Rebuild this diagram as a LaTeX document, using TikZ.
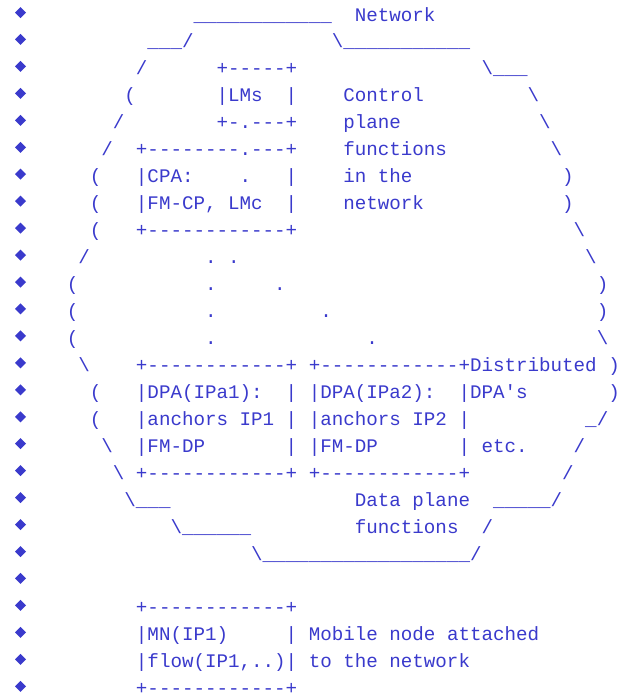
\documentclass[tikz,border=0pt]{standalone}
\usepackage{fontspec}
\setmonofont{Liberation Mono}
\ExplSyntaxOn
\cs_new:Npn \reprun #1#2 { \prg_replicate:nn {#1} {#2} }
\ExplSyntaxOff
\definecolor{ink}{RGB}{58,58,204}
% grid of the character art: left margin, column width, first baseline, line pitch
\def\xo{43.8}
\def\cw{11.52}
\def\yo{21}
\def\lp{26.95}
\newcommand\boxedge{+\reprun{12}{-}+}
\newcommand\bs{\textbackslash}
\tikzset{
  ascii/.style={anchor=base west, inner sep=0pt, outer sep=0pt, text=ink,
    font=\fontsize{19.2pt}{23pt}\selectfont\ttfamily\frenchspacing},
  bullet/.style={fill=ink}
}
% \asc{name}{line}{column}{text}
\newcommand\asc[4]{\node[ascii] (#1) at ({\xo+#3*\cw},{\yo+(#2-1)*\lp}) {#4};}
\begin{document}
\begin{tikzpicture}[x=1pt,y=-1pt]
\useasboundingbox (0,0) rectangle (620,697);
\fill[white] (0,0) rectangle (620,697);
% list bullets
\foreach \i in {1,...,26}{
  \pgfmathsetmacro\by{\yo+(\i-1)*\lp-8.5}
  \fill[bullet] (20.5,\by-5.5) -- (26,\by) -- (20.5,\by+5.5) -- (15,\by) -- cycle;
}
% network outline and labels
\asc{a1}{1}{13}{\reprun{12}{\_}}
\asc{a2}{1}{27}{Network}
\asc{b1}{2}{9}{\_\_\_/}
\asc{b2}{2}{25}{\bs\reprun{11}{\_}}
\asc{c1}{3}{8}{/}
\asc{c2}{3}{15}{+-----+}
\asc{c3}{3}{38}{\bs\_\_\_}
\asc{d1}{4}{7}{(}
\asc{d2}{4}{15}{|LMs}
\asc{d3}{4}{21}{|}
\asc{d4}{4}{26}{Control}
\asc{d5}{4}{42}{\bs}
\asc{e1}{5}{6}{/}
\asc{e2}{5}{15}{+-.---+}
\asc{e3}{5}{26}{plane}
\asc{e4}{5}{43}{\bs}
\asc{f1}{6}{5}{/}
\asc{f2}{6}{8}{+--------.---+}
\asc{f3}{6}{26}{functions}
\asc{f4}{6}{44}{\bs}
\asc{g1}{7}{4}{(}
\asc{g2}{7}{8}{|CPA:}
\asc{g3}{7}{17}{.}
\asc{g4}{7}{21}{|}
\asc{g5}{7}{26}{in the}
\asc{g6}{7}{45}{)}
\asc{h1}{8}{4}{(}
\asc{h2}{8}{8}{|FM-CP, LMc}
\asc{h3}{8}{21}{|}
\asc{h4}{8}{26}{network}
\asc{h5}{8}{45}{)}
\asc{i1}{9}{4}{(}
\asc{i2}{9}{8}{\boxedge}
\asc{i3}{9}{46}{\bs}
\asc{j1}{10}{3}{/}
\asc{j2}{10}{14}{.}
\asc{j3}{10}{16}{.}
\asc{j4}{10}{47}{\bs}
\asc{k1}{11}{2}{(}
\asc{k2}{11}{14}{.}
\asc{k3}{11}{20}{.}
\asc{k4}{11}{48}{)}
\asc{l1}{12}{2}{(}
\asc{l2}{12}{14}{.}
\asc{l3}{12}{24}{.}
\asc{l4}{12}{48}{)}
\asc{m1}{13}{2}{(}
\asc{m2}{13}{14}{.}
\asc{m3}{13}{28}{.}
\asc{m4}{13}{48}{\bs}
\asc{n1}{14}{3}{\bs}
\asc{n2}{14}{8}{\boxedge{} \boxedge{}Distributed )}
\asc{o1}{15}{4}{(}
\asc{o2}{15}{8}{|DPA(IPa1):}
\asc{o3}{15}{21}{| |DPA(IPa2):}
\asc{o4}{15}{36}{|DPA's}
\asc{o5}{15}{49}{)}
\asc{p1}{16}{4}{(}
\asc{p2}{16}{8}{|anchors IP1 | |anchors IP2 |}
\asc{p3}{16}{47}{\_/}
\asc{q1}{17}{5}{\bs}
\asc{q2}{17}{8}{|FM-DP}
\asc{q3}{17}{21}{| |FM-DP}
\asc{q4}{17}{36}{| etc.}
\asc{q5}{17}{46}{/}
\asc{r1}{18}{6}{\bs}
\asc{r2}{18}{8}{\boxedge{} \boxedge}
\asc{r3}{18}{45}{/}
\asc{s1}{19}{7}{\bs\_\_\_}
\asc{s2}{19}{27}{Data plane}
\asc{s3}{19}{39}{\reprun{5}{\_}/}
\asc{t1}{20}{11}{\bs\reprun{6}{\_}}
\asc{t2}{20}{27}{functions}
\asc{t3}{20}{38}{/}
\asc{u1}{21}{18}{\bs\reprun{18}{\_}/}
% mobile node
\asc{w1}{23}{8}{\boxedge}
\asc{x1}{24}{8}{|MN(IP1)}
\asc{x2}{24}{21}{| Mobile node attached}
\asc{y1}{25}{8}{|flow(IP1,..)| to the network}
\asc{z1}{26}{8}{\boxedge}
\end{tikzpicture}
\end{document}
